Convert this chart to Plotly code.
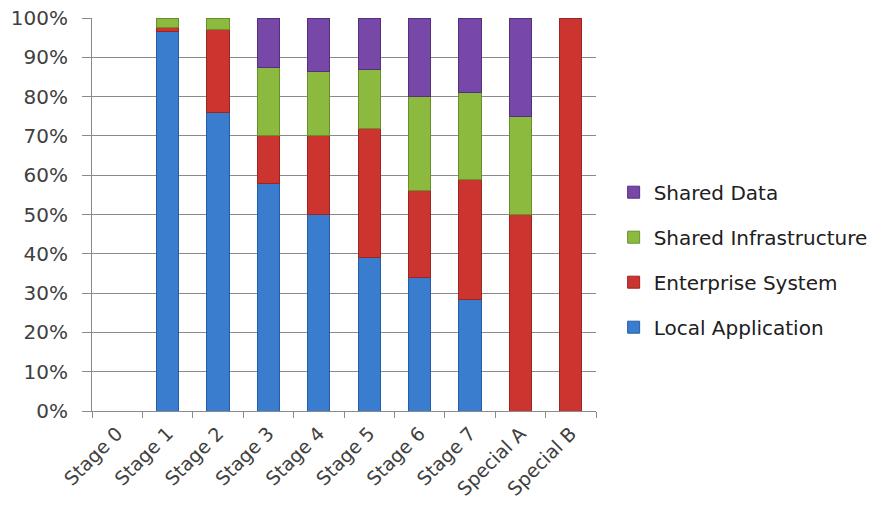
import plotly.graph_objects as go

# Categories along the x axis
stages = ["Stage 0", "Stage 1", "Stage 2", "Stage 3", "Stage 4",
          "Stage 5", "Stage 6", "Stage 7", "Special A", "Special B"]

# Share of each application type per stage (percent)
local_application = [0, 96.5, 76, 58, 50, 39, 34, 28.5, 0, 0]
enterprise_system = [0, 1.0, 21, 12, 20, 33, 22, 30.5, 50, 100]
shared_infrastructure = [0, 2.5, 3, 17.5, 16.5, 15, 24, 22, 25, 0]
shared_data = [0, 0, 0, 12.5, 13.5, 13, 20, 19, 25, 0]

y_ticks = [0, 10, 20, 30, 40, 50, 60, 70, 80, 90, 100]
y_tick_labels = [f"{v}%" for v in y_ticks]

# (name, values, fill, edge, legend rank: top of legend first)
series = [
    ("Local Application", local_application, "#3a7ccd", "#255ea8", 4),
    ("Enterprise System", enterprise_system, "#cc3430", "#9a2622", 3),
    ("Shared Infrastructure", shared_infrastructure, "#8cba3e", "#67902a", 2),
    ("Shared Data", shared_data, "#7748a7", "#55307e", 1),
]

fig = go.Figure()
for name, values, fill, edge, rank in series:
    fig.add_trace(go.Bar(
        name=name,
        x=stages,
        # empty segments are skipped so no outline is drawn for them
        y=[v if v else None for v in values],
        legendgroup=name,
        legendrank=rank,
        marker=dict(color=fill, line=dict(color=edge, width=1)),
    ))

text_font = dict(family="DejaVu Sans", size=20, color="#404040")

fig.update_layout(
    width=873,
    height=510,
    barmode="stack",
    bargap=0.56,
    plot_bgcolor="white",
    paper_bgcolor="white",
    margin=dict(l=92, r=277, t=18, b=99, autoexpand=False),
    font=text_font,
    showlegend=True,
    legend=dict(
        x=1.035, xanchor="left",
        y=0.385, yanchor="middle",
        traceorder="grouped",
        tracegroupgap=16,
        font=dict(family="DejaVu Sans", size=20, color="#202020"),
        itemwidth=30,
    ),
    xaxis=dict(
        type="category",
        automargin=False,
        tickangle=-45,
        showline=True,
        linecolor="#8a8a8a",
        ticks="outside",
        tickson="boundaries",
        ticklen=6,
        tickcolor="#8a8a8a",
        showgrid=False,
        tickfont=dict(family="DejaVu Sans", size=19, color="#404040"),
        ticklabelstandoff=3,
    ),
    yaxis=dict(
        automargin=False,
        range=[0, 100],
        tickvals=y_ticks,
        ticktext=y_tick_labels,
        showline=True,
        linecolor="#8a8a8a",
        ticks="outside",
        ticklen=9,
        tickcolor="#8a8a8a",
        showgrid=True,
        gridcolor="#8a8a8a",
        gridwidth=1,
        zeroline=False,
        tickfont=text_font,
        ticklabelstandoff=10,
    ),
)

fig.write_html("out.html")
